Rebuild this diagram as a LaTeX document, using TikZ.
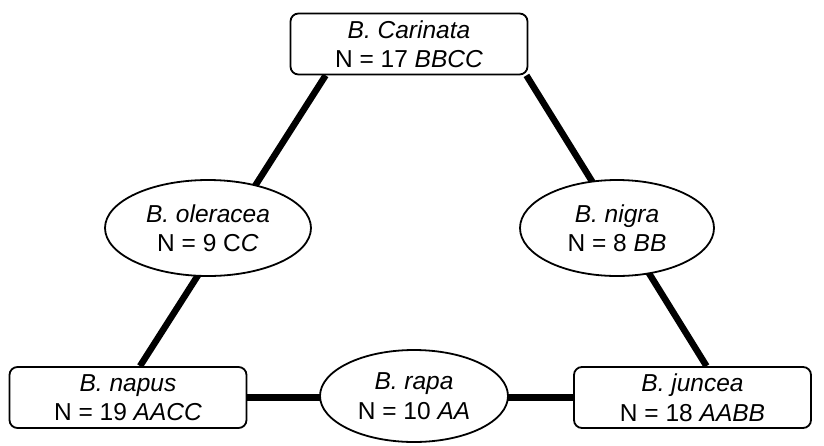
\documentclass[tikz,border=0pt]{standalone}
\usepackage{fontspec}
\setmainfont{Liberation Sans}
\usetikzlibrary{shapes.geometric,backgrounds}
\begin{document}
\begin{tikzpicture}[x=1pt,y=-1pt,
  every node/.style={font=\fontsize{24.5}{29.5}\selectfont, align=center, inner sep=0pt},
  boxnode/.style={draw, line width=1.8pt, rounded corners=8pt, fill=white,
    minimum width=237pt, minimum height=61pt},
  ellnode/.style={draw, ellipse, line width=1.8pt, fill=white,
    minimum width=206pt, minimum height=96pt},
  conn/.style={line width=6.5pt}]
\useasboundingbox (0,0) rectangle (824,445);
\node[boxnode] (top) at (409,44) {\textit{B. Carinata}\\N = 17 \textit{BBCC}};
\node[ellnode] (ole) at (208,228) {\textit{B. oleracea}\\N = 9 C\textit{C}};
\node[ellnode, minimum width=194pt] (nig) at (617,228) {\textit{B. nigra}\\N = 8 \textit{BB}};
\node[boxnode] (napus) at (128,397.5) {\textit{B. napus}\\N = 19 \textit{AACC}};
\node[ellnode, minimum width=188pt, minimum height=92pt] (rapa) at (414,396) {\textit{B. rapa}\\N = 10 \textit{AA}};
\node[boxnode] (juncea) at (692.5,397.5) {\textit{B. juncea}\\N = 18 \textit{AABB}};
\coordinate (lt) at ([xshift=36pt]top.south west);
\coordinate (rt) at ([xshift=-2pt]top.south east);
\coordinate (lb) at ([xshift=12pt]napus.north);
\coordinate (rb) at ([xshift=14pt]juncea.north);
\begin{scope}[on background layer]
  \draw[conn] (lt) -- (lb);
  \draw[conn] (rt) -- (rb);
  \draw[conn] (napus) -- (juncea);
\end{scope}
\end{tikzpicture}
\end{document}
